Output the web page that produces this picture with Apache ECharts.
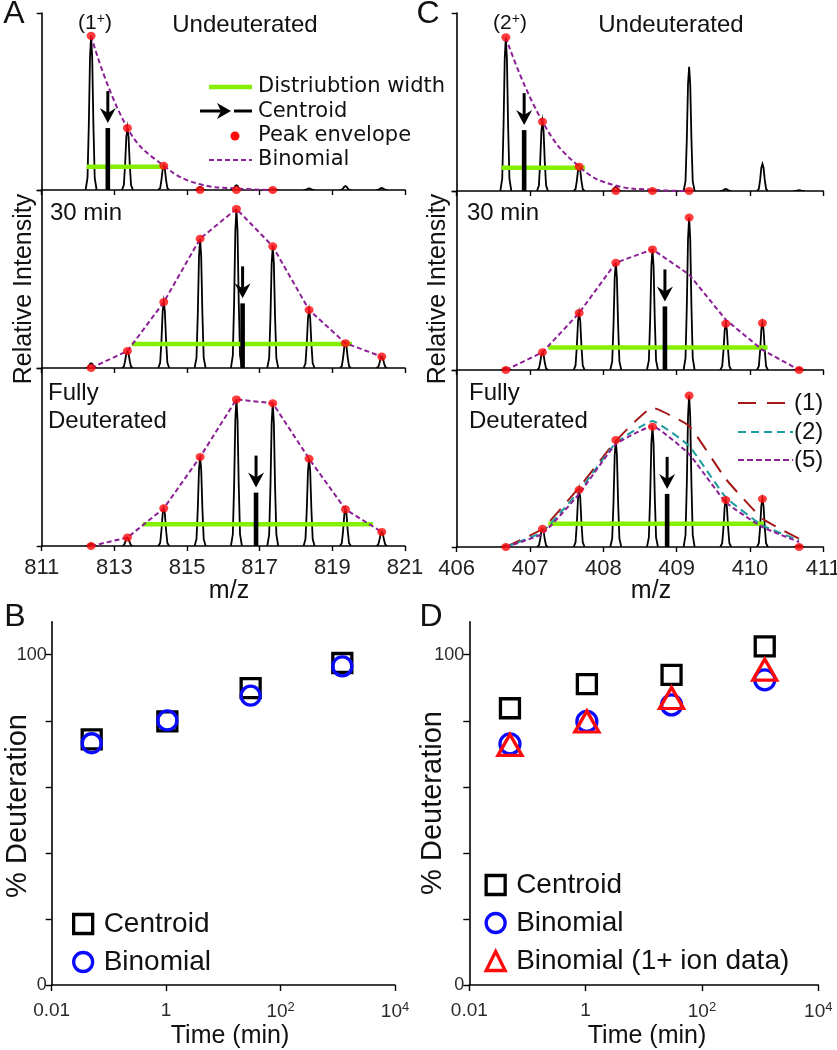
<!DOCTYPE html>
<html><head><meta charset="utf-8">
<script src="https://cdn.jsdelivr.net/npm/echarts@6/dist/echarts.min.js"></script>
<style>html,body{margin:0;padding:0;background:#fff}#c{width:837px;height:1050px}</style>
</head><body><div id="c"></div>
<script>
// ---------------- data ----------------
const peaksA = [812.36, 813.36, 814.36, 815.36, 816.36, 817.36, 818.36, 819.36, 820.36];
const peaksC = [406.67, 407.17, 407.67, 408.17, 408.67, 409.17, 409.67, 410.17, 410.67];
const specA_undeut = [99.3, 39.9, 15.6, 2.0, 3.0, 0.5, 1.0, 2.5, 1.3];
const specA_30 = [3.0, 10.9, 42.2, 82.8, 101.9, 77.9, 37.2, 15.9, 7.3];
const specA_full = [1.5, 5.4, 24.1, 57.0, 93.9, 91.4, 55.9, 23.5, 9.0];
const envA_undeut = [99.3, 39.9, 15.6, 0, 0, 0];
const envA_30 = [0, 10.9, 42.2, 82.8, 101.9, 77.9, 37.2, 15.9, 7.3];
const envA_full = [0, 5.4, 24.1, 57.0, 93.9, 91.4, 55.9, 23.5, 9.0];
const binA_undeut = [99.3, 39.9, 15.6, 3.7, 1.0, 0];
const binA_30 = [0, 10.9, 42.2, 82.8, 101.9, 77.9, 37.2, 15.9, 7.3];
const binA_full = [0, 5.4, 24.1, 57.0, 93.9, 91.4, 55.9, 23.5, 9.0];
const specC_undeut = [98.4, 44.4, 15.6, 2.7, 0.5, 79.6, 1.3, 17.3, 0.5];
const specC_30 = [1.3, 11.3, 36.3, 68.3, 76.8, 97.1, 29.5, 29.9, 1.3];
const specC_full = [1.0, 11.7, 36.9, 68.9, 77.5, 97.5, 30.3, 30.9, 1.0];
const envC_undeut = [98.4, 44.4, 15.6, 0, 0, 0];
const envC_30 = [0, 11.3, 36.3, 68.3, 76.8, 97.1, 29.5, 29.9, 0];
const envC_full = [0, 11.7, 36.9, 68.9, 77.5, 97.5, 30.3, 30.9, 0];
const binC_undeut = [98.4, 44.4, 15.6, 3.5, 0.8, 0];
const binC_30 = [0, 11.3, 36.3, 68.3, 76.8, 60.8, 32.0, 12.8, 0];
const modelC1 = [0, 11.7, 38.4, 68.3, 89.7, 77.9, 43.8, 18.2, 5.3];
const modelC2 = [0, 9.8, 36.0, 67.0, 81.1, 65.1, 32.0, 13.9, 4.3];
const modelC5 = [0, 8.5, 34.2, 66.2, 77.9, 59.8, 28.8, 12.8, 3.2];
const centroidMzA = [812.82, 816.53, 816.90];
const centroidHA = [39.9, 41.4, 34.2];
const centroidMzC = [406.92, 408.84, 408.87];
const centroidHC = [39.0, 40.5, 34.2];
const widthFromA = [812.24, 813.48, 813.78];
const widthToA = [814.36, 819.54, 820.12];
const widthYA = [15.0, 15.4, 13.9];
const widthFromC = [406.61, 407.25, 407.25];
const widthToC = [407.75, 410.24, 410.19];
const widthYC = [14.9, 14.3, 14.9];
const ticksA = [811, 813, 815, 817, 819, 821];
const ticksC = [406, 407, 408, 409, 410, 411];
const timeTicks = [0.01, 1, 100, 10000];
const pctTicks = [0, 20, 40, 60, 80, 100];
const pctLabels = [0, 100];
const timesMin = [0.05, 1.05, 30, 1200];
const centroidB = [74.4, 79.8, 89.9, 97.5];
const binomialB = [73.2, 80.1, 87.6, 96.5];
const centroidD = [83.8, 91.1, 93.9, 102.5];
const binomialD = [73.0, 79.8, 84.8, 92.4];
const binomial1D = [72.7, 79.8, 86.9, 95.5];

// ---------------- styling ----------------
const FONT = 'Liberation Sans, Arial, sans-serif';
const LEGFONT = 'DejaVu Sans, sans-serif';
const PURPLE = '#8b1f96';
const GREEN = '#84f000';
const RED = '#ff0a0a';
const BLUE = '#0a0aff';
const YMAX = 114;
const PEAK_SHAPE = [[-5.5,0],[-3.6,0.08],[-2.3,0.42],[-1.1,0.86],[0,1],[1.1,0.86],[2.3,0.42],[3.6,0.08],[5.5,0]];

const chart = echarts.init(document.getElementById('c'), null, {renderer: 'canvas'});

const gridsPos = [
  {left: 41.7, top: 13, width: 363.3, height: 177},
  {left: 41.7, top: 190, width: 363.3, height: 178},
  {left: 41.7, top: 368, width: 363.3, height: 178},
  {left: 456.7, top: 13, width: 366.6, height: 178},
  {left: 456.7, top: 191, width: 366.6, height: 179},
  {left: 456.7, top: 370, width: 366.6, height: 177},
  {left: 51.7, top: 621.7, width: 343.3, height: 363.3},
  {left: 469.3, top: 621.7, width: 349, height: 363.3}
];
const grid = gridsPos.map(g => Object.assign({containLabel: false, outerBoundsMode: 'none'}, g));

const axisLineStyle = {color: '#000', width: 1.6};
function specX(i, isA, showLabel) {
  const ticks = isA ? ticksA : ticksC;
  return {
    gridIndex: i, type: 'value', min: ticks[0], max: ticks[ticks.length - 1],
    axisLine: {show: true, onZero: false, lineStyle: axisLineStyle},
    axisTick: {show: true, customValues: ticks, length: 5, lineStyle: {color: '#000', width: 1.4}},
    axisLabel: {show: showLabel, customValues: ticks, fontSize: 22, fontFamily: FONT, color: '#222', margin: 11, hideOverlap: false},
    splitLine: {show: false}
  };
}
function specY(i) {
  return {
    gridIndex: i, type: 'value', min: 0, max: YMAX, interval: YMAX,
    axisLine: {show: true, lineStyle: axisLineStyle},
    axisTick: {show: true, length: 5, lineStyle: {color: '#000', width: 1.4}},
    axisLabel: {show: false}, splitLine: {show: false}
  };
}
function timeX(i) {
  return {
    gridIndex: i, type: 'log', logBase: 10, min: 0.01, max: 10000,
    axisLine: {show: true, onZero: false, lineStyle: {color: '#000', width: 1.6}},
    axisTick: {show: true, customValues: timeTicks, length: 6, lineStyle: {color: '#000', width: 1.4}},
    axisLabel: {
      show: true, customValues: timeTicks, margin: 16, fontSize: 19, fontFamily: FONT, color: '#2a2a2a', hideOverlap: false,
      formatter: function (v) {
        const e = Math.round(Math.log10(v));
        if (e === -2) return '{b|0.01}';
        if (e === 0) return '{b|1}';
        return '{b|10}{s|' + e + '}';
      },
      rich: {b: {fontSize: 19, fontFamily: FONT, color: '#2a2a2a'}, s: {fontSize: 13, fontFamily: FONT, color: '#2a2a2a', verticalAlign: 'top', padding: [0, 0, 8, 0]}}
    },
    splitLine: {show: false}, minorTick: {show: false}
  };
}
function pctY(i) {
  return {
    gridIndex: i, type: 'value', min: 0, max: 110,
    axisLine: {show: true, lineStyle: {color: '#000', width: 1.6}},
    axisTick: {show: true, customValues: pctTicks, length: 6, lineStyle: {color: '#000', width: 1.4}},
    axisLabel: {show: true, customValues: pctLabels, fontSize: 18, fontFamily: FONT, color: '#2a2a2a', margin: 5},
    splitLine: {show: false}
  };
}

const xAxis = [specX(0, true, false), specX(1, true, false), specX(2, true, true),
               specX(3, false, false), specX(4, false, false), specX(5, false, true),
               timeX(6), timeX(7)];
const yAxis = [specY(0), specY(1), specY(2), specY(3), specY(4), specY(5), pctY(6), pctY(7)];

function zip(xs, ys) { return ys.map((y, k) => [xs[k], y]); }

function renderPeak(params, api) {
  const c = api.coord([api.value(0), api.value(1)]);
  const b = api.coord([api.value(0), 0]);
  const H = b[1] - c[1];
  const pts = PEAK_SHAPE.map(p => [c[0] + p[0], b[1] - p[1] * H]);
  return {type: 'polyline', shape: {points: pts}, style: {stroke: '#000', lineWidth: 1.8, fill: null}};
}
function renderCentroid(params, api) {
  const t = api.coord([api.value(0), api.value(1)]);
  const b = api.coord([api.value(0), 0]);
  const x = t[0], y = t[1];
  return {type: 'group', children: [
    {type: 'rect', shape: {x: x - 2.3, y: y, width: 4.6, height: b[1] - y}, style: {fill: '#000'}},
    {type: 'line', shape: {x1: x, y1: y - 37, x2: x, y2: y - 14}, style: {stroke: '#000', lineWidth: 3}},
    {type: 'polygon', shape: {points: [[x - 8, y - 20], [x, y - 15], [x + 8, y - 20], [x, y - 5]]}, style: {fill: '#000'}}
  ]};
}

const series = [];
function spectrumPanel(gi, peaks, spec, env, bin, binSmooth, cMz, cH, wFrom, wTo, wY) {
  series.push({type: 'custom', name: 'spectrum' + gi, xAxisIndex: gi, yAxisIndex: gi, coordinateSystem: 'cartesian2d',
    renderItem: renderPeak, encode: {x: 0, y: 1}, data: zip(peaks, spec), clip: true, silent: true, z: 2});
  series.push({type: 'line', name: 'width' + gi, xAxisIndex: gi, yAxisIndex: gi, data: [[wFrom, wY], [wTo, wY]],
    showSymbol: false, lineStyle: {color: GREEN, width: 4.5}, silent: true, z: 3});
  if (bin) {
    series.push({type: 'line', name: 'binomial' + gi, xAxisIndex: gi, yAxisIndex: gi, data: zip(peaks, bin),
      showSymbol: false, smooth: binSmooth, lineStyle: {color: PURPLE, width: 2, type: [5, 3]}, silent: true, z: 4});
  }
  series.push({type: 'custom', name: 'centroid' + gi, xAxisIndex: gi, yAxisIndex: gi, coordinateSystem: 'cartesian2d',
    renderItem: renderCentroid, encode: {x: 0, y: 1}, data: [[cMz, cH]], silent: true, z: 5});
  series.push({type: 'scatter', name: 'envelope' + gi, xAxisIndex: gi, yAxisIndex: gi, data: zip(peaks, env),
    symbol: 'circle', symbolSize: [9, 8], itemStyle: {color: RED}, silent: true, z: 6});
}
spectrumPanel(0, peaksA, specA_undeut, envA_undeut, binA_undeut, 0.45, centroidMzA[0], centroidHA[0], widthFromA[0], widthToA[0], widthYA[0]);
spectrumPanel(1, peaksA, specA_30, envA_30, binA_30, false, centroidMzA[1], centroidHA[1], widthFromA[1], widthToA[1], widthYA[1]);
spectrumPanel(2, peaksA, specA_full, envA_full, binA_full, false, centroidMzA[2], centroidHA[2], widthFromA[2], widthToA[2], widthYA[2]);
spectrumPanel(3, peaksC, specC_undeut, envC_undeut, binC_undeut, 0.45, centroidMzC[0], centroidHC[0], widthFromC[0], widthToC[0], widthYC[0]);
spectrumPanel(4, peaksC, specC_30, envC_30, binC_30, false, centroidMzC[1], centroidHC[1], widthFromC[1], widthToC[1], widthYC[1]);
spectrumPanel(5, peaksC, specC_full, envC_full, null, false, centroidMzC[2], centroidHC[2], widthFromC[2], widthToC[2], widthYC[2]);
// model lines in C, fully deuterated
[[modelC1, '#a31818', [16, 10]], [modelC2, '#1c9c9c', [8, 5]], [modelC5, PURPLE, [5, 3]]].forEach(function (m, k) {
  series.push({type: 'line', name: 'model' + k, xAxisIndex: 5, yAxisIndex: 5, data: zip(peaksC, m[0]),
    showSymbol: false, smooth: 0.12, lineStyle: {color: m[1], width: 2, type: m[2]}, silent: true, z: 4});
});

// % deuteration panels
function scat(gi, name, vals, symbol, size, color) {
  series.push({type: 'scatter', name: name, xAxisIndex: gi, yAxisIndex: gi, data: zip(timesMin, vals),
    symbol: symbol, symbolSize: size, itemStyle: {color: 'rgba(255,255,255,0)', borderColor: color, borderWidth: 3.3, opacity: 1}, z: 5});
}
scat(6, 'Centroid', centroidB, 'rect', 19, '#000');
scat(6, 'Binomial', binomialB, 'circle', 19, BLUE);
scat(7, 'Centroid', centroidD, 'rect', 19, '#000');
scat(7, 'Binomial', binomialD, 'circle', 20, BLUE);
scat(7, 'Binomial (1+ ion data)', binomial1D, 'triangle', [24, 21], RED);

const legendCommon = {orient: 'vertical', itemWidth: 19, itemHeight: 19, itemGap: 10, selectedMode: false,
  itemStyle: {borderWidth: 3.3},
  textStyle: {fontSize: 28, fontFamily: FONT, color: '#111', padding: [0, 0, 0, 6]}};
const legend = [
  Object.assign({data: ['Centroid', 'Binomial'], left: 67, top: 905}, legendCommon),
  Object.assign({data: ['Centroid', 'Binomial', 'Binomial (1+ ion data)'], left: 479.5, top: 866}, legendCommon)
];

function txt(x, y, text, size, opts) {
  return Object.assign({type: 'text', x: x, y: y, silent: true, z: 50,
    style: Object.assign({text: text, fontSize: size, fontFamily: FONT, fill: '#111', align: 'center', verticalAlign: 'middle'}, (opts && opts.style) || {})},
    (opts && opts.el) || {});
}
const supRich = {s: {fontSize: 14, fontFamily: FONT, fill: '#111', verticalAlign: 'top'}, n: {fontSize: 21, fontFamily: FONT, fill: '#111'}};
const graphic = [
  txt(14, 14, 'A', 32), txt(428, 14, 'C', 32), txt(15, 617, 'B', 32), txt(431, 617, 'D', 32),
  txt(95, 23, '{n|(1}{s|+}{n|)}', 21, {style: {rich: supRich}}),
  txt(510, 23, '{n|(2}{s|+}{n|)}', 21, {style: {rich: supRich}}),
  txt(245, 25, 'Undeuterated', 24), txt(671, 25, 'Undeuterated', 24),
  txt(50, 213, '30 min', 24, {style: {align: 'left'}}), txt(467, 213, '30 min', 24, {style: {align: 'left'}}),
  txt(48, 393, 'Fully', 24, {style: {align: 'left'}}), txt(48, 421, 'Deuterated', 24, {style: {align: 'left'}}),
  txt(469, 393, 'Fully', 24, {style: {align: 'left'}}), txt(469, 421, 'Deuterated', 24, {style: {align: 'left'}}),
  txt(24, 289, 'Relative Intensity', 25, {el: {rotation: Math.PI / 2}}),
  txt(438, 289, 'Relative Intensity', 25, {el: {rotation: Math.PI / 2}}),
  txt(229, 591, 'm/z', 25), txt(651, 591, 'm/z', 25),
  txt(18, 806, '% Deuteration', 29, {el: {rotation: Math.PI / 2}}),
  txt(433, 803, '% Deuteration', 29, {el: {rotation: Math.PI / 2}}),
  txt(230, 1036, 'Time (min)', 25), txt(647, 1036, 'Time (min)', 25),
  // legend of panel A (top)
  {type: 'line', silent: true, z: 50, shape: {x1: 209, y1: 87, x2: 252, y2: 87}, style: {stroke: GREEN, lineWidth: 4.5}},
  txt(258, 87, 'Distriubtion width', 21, {style: {align: 'left', fontFamily: LEGFONT}}),
  {type: 'line', silent: true, z: 50, shape: {x1: 200, y1: 111, x2: 222, y2: 111}, style: {stroke: '#000', lineWidth: 3}},
  {type: 'polygon', silent: true, z: 50, shape: {points: [[217, 103], [231, 111], [217, 119], [221, 111]]}, style: {fill: '#000'}},
  {type: 'line', silent: true, z: 50, shape: {x1: 234, y1: 111, x2: 252, y2: 111}, style: {stroke: '#000', lineWidth: 3}},
  txt(258, 112, 'Centroid', 21, {style: {align: 'left', fontFamily: LEGFONT}}),
  {type: 'circle', silent: true, z: 50, shape: {cx: 235, cy: 136, r: 4.5}, style: {fill: RED}},
  txt(258, 136, 'Peak envelope', 21, {style: {align: 'left', fontFamily: LEGFONT}}),
  {type: 'line', silent: true, z: 50, shape: {x1: 209, y1: 160, x2: 252, y2: 160}, style: {stroke: PURPLE, lineWidth: 2, lineDash: [5, 3]}},
  txt(258, 160, 'Binomial', 21, {style: {align: 'left', fontFamily: LEGFONT}}),
  // legend of models (panel C, fully deuterated)
  {type: 'line', silent: true, z: 50, shape: {x1: 738, y1: 403, x2: 793, y2: 403}, style: {stroke: '#a31818', lineWidth: 2.2, lineDash: [18, 11]}},
  txt(794, 403, '(1)', 24, {style: {align: 'left'}}),
  {type: 'line', silent: true, z: 50, shape: {x1: 738, y1: 432, x2: 793, y2: 432}, style: {stroke: '#1c9c9c', lineWidth: 2.2, lineDash: [8, 5]}},
  txt(794, 432, '(2)', 24, {style: {align: 'left'}}),
  {type: 'line', silent: true, z: 50, shape: {x1: 738, y1: 460, x2: 793, y2: 460}, style: {stroke: PURPLE, lineWidth: 2.2, lineDash: [6, 3]}},
  txt(794, 460, '(5)', 24, {style: {align: 'left'}})
];

chart.setOption({
  animation: false,
  backgroundColor: '#fff',
  grid: grid, xAxis: xAxis, yAxis: yAxis, series: series, legend: legend, graphic: graphic,
  tooltip: {show: false}
});
</script></body></html>
